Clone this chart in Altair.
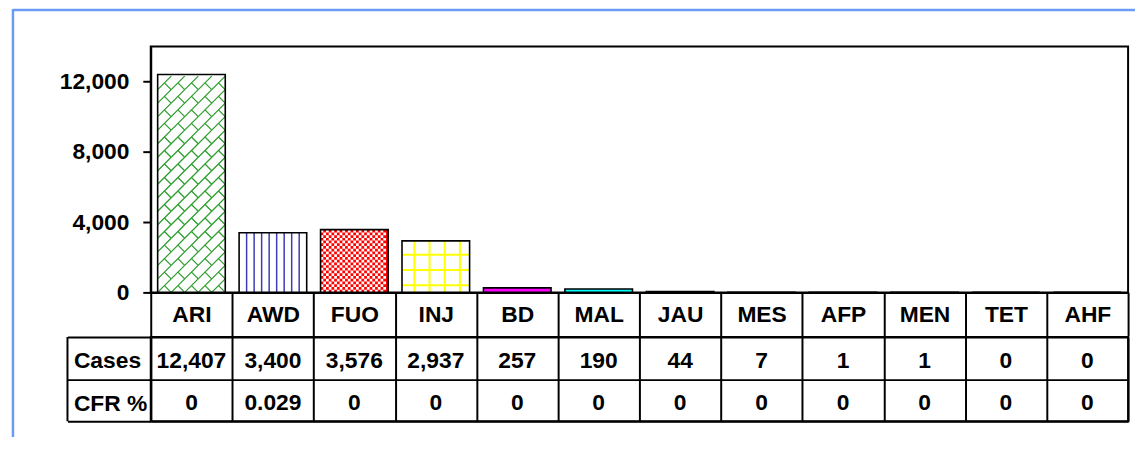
import altair as alt
import pandas as pd

# ---------------- data ----------------
cats = ["ARI", "AWD", "FUO", "INJ", "BD", "MAL", "JAU", "MES", "AFP", "MEN", "TET", "AHF"]
cases = [12407, 3400, 3576, 2937, 257, 190, 44, 7, 1, 1, 0, 0]
cfr = [0, 0.029, 0, 0, 0, 0, 0, 0, 0, 0, 0, 0]
row_names = ["Cases", "CFR %"]
y_ticks = [0, 4000, 8000, 12000]
fills = ["#ffffff", "#ffffff", "#ff0000", "#ffffff", "#ff00ff", "#00ffff",
         "#ffffff", "#ffffff", "#ffffff", "#ffffff", "#ffffff", "#ffffff"]

# ---------------- layout / style ----------------
FONT = "Liberation Sans"
FS = 23
W = 986
H_BAR = 248
H_TAB = 85
BAR = 0.83
YMAX = 14000
N = len(cats)
U_PER_PX_Y = YMAX / H_BAR          # data units per pixel (y)
PX_PER_BAND = W / N                # pixels per category (x)
BLUE = "#6a9cf5"

bars_df = pd.DataFrame({"cat": cats, "cases": cases, "fill": fills})
one = pd.DataFrame({"k": [0]})


def bar_left(i):
    return i + (1 - BAR) / 2


# ---- pattern textures (decoration derived from bar values) ----
i_awd = cats.index("AWD")
awd = pd.DataFrame({"px": [bar_left(i_awd) + BAR * k / 9 for k in range(1, 9)]})
awd["py"] = 0
awd["py2"] = cases[i_awd]

i_fuo = cats.index("FUO")
CK = 2.75
fuo_cols = list(range(int(BAR * PX_PER_BAND // CK)))
fuo = pd.DataFrame({"px": [bar_left(i_fuo) + CK * (k + 0.5) / PX_PER_BAND for k in fuo_cols],
                    "par": [k % 2 for k in fuo_cols]})
fuo["py"] = 0
fuo["py2"] = cases[i_fuo]

i_inj = cats.index("INJ")
GRID = 15.3
inj_v = pd.DataFrame({"px": [bar_left(i_inj) + (12.5 + GRID * k) / PX_PER_BAND for k in range(4)]})
inj_v["py"] = 0
inj_v["py2"] = cases[i_inj]
inj_h_vals = []
v = 412
while v < cases[i_inj]:
    inj_h_vals.append(v)
    v += GRID * U_PER_PX_Y
inj_h = pd.DataFrame({"py": inj_h_vals})
inj_h["px"] = bar_left(i_inj)
inj_h["px2"] = bar_left(i_inj) + BAR

i_ari = cats.index("ARI")
NCOL = 5
tile_px = BAR * PX_PER_BAND / NCOL
tile_u = tile_px * U_PER_PX_Y
nrow = int(cases[i_ari] // tile_u)
ari_rows = []
for r in range(nrow):
    for c in range(NCOL):
        ari_rows.append({"px": bar_left(i_ari) + BAR / NCOL * (c + 0.5),
                         "py": (r + 0.5) * tile_u})
ari = pd.DataFrame(ari_rows)

# ---------------- encodings ----------------
band = alt.Scale(paddingInner=0, paddingOuter=0)
yscale = alt.Scale(domain=[0, YMAX], nice=False, zero=True)
qx = alt.Scale(domain=[0, N], nice=False, zero=False)

x_axis = alt.Axis(title=None, orient="bottom", labelAngle=0, tickBand="extent",
                  tickSize=44, tickWidth=2, tickColor="black",
                  domainColor="black", domainWidth=2,
                  labelPadding=-22, labelBaseline="middle", labelAlign="center",
                  labelFont=FONT, labelFontSize=FS, labelFontWeight="bold",
                  labelColor="black", grid=False)
y_axis = alt.Axis(title=None, values=y_ticks, labelExpr="format(datum.value, ',')",
                  grid=False, tickSize=8, tickWidth=2, tickColor="black",
                  domainColor="black", domainWidth=2, labelPadding=14,
                  labelFont=FONT, labelFontSize=FS, labelFontWeight="bold",
                  labelColor="black")


def Xq(field):
    return alt.X(f"{field}:Q", scale=qx, axis=None, title=None)


def Yq(field):
    return alt.Y(f"{field}:Q", scale=yscale, axis=y_axis, title=None)


bars = alt.Chart(bars_df).mark_bar(width=alt.RelativeBandSize(BAR), strokeWidth=0).encode(
    x=alt.X("cat:N", sort=cats, scale=band, axis=x_axis),
    y=Yq("cases"),
    fill=alt.Fill("fill:N", scale=None),
)

awd_l = alt.Chart(awd).mark_rule(color="#3c3cb4", strokeWidth=1.5).encode(
    x=Xq("px"), y=Yq("py"), y2=alt.Y2("py2"))

fuo_even = alt.Chart(fuo[fuo["par"] == 0]).mark_rule(
    color="white", strokeWidth=CK, strokeDash=[CK, CK], strokeDashOffset=0).encode(
    x=Xq("px"), y=Yq("py"), y2=alt.Y2("py2"))
fuo_odd = alt.Chart(fuo[fuo["par"] == 1]).mark_rule(
    color="white", strokeWidth=CK, strokeDash=[CK, CK], strokeDashOffset=CK).encode(
    x=Xq("px"), y=Yq("py"), y2=alt.Y2("py2"))

inj_vl = alt.Chart(inj_v).mark_rule(color="#ffff00", strokeWidth=2).encode(
    x=Xq("px"), y=Yq("py"), y2=alt.Y2("py2"))
inj_hl = alt.Chart(inj_h).mark_rule(color="#ffff00", strokeWidth=2).encode(
    x=Xq("px"), x2=alt.X2("px2"), y=Yq("py"))

ari_l = alt.Chart(ari).mark_point(
    shape="M-1,1L1,-1M0,0L1,1", size=tile_px ** 2, filled=False, opacity=1,
    stroke="#2f9e2f", strokeWidth=1.3).encode(x=Xq("px"), y=Yq("py"))

outline = alt.Chart(bars_df).mark_bar(
    width=alt.RelativeBandSize(BAR), fillOpacity=0, stroke="black", strokeWidth=1.6).encode(
    x=alt.X("cat:N", sort=cats, scale=band, axis=None),
    y=Yq("cases"),
)

frame_top = alt.Chart(one).mark_rule(color=BLUE, strokeWidth=2.5).encode(
    x=alt.value(-139), x2=alt.value(993), y=alt.value(-37))
frame_left = alt.Chart(one).mark_rule(color=BLUE, strokeWidth=2.5).encode(
    x=alt.value(-139), y=alt.value(-38), y2=alt.value(394))

bar_chart = alt.layer(
    bars, awd_l, fuo_even, fuo_odd, inj_vl, inj_hl, ari_l, outline, frame_top, frame_left
).resolve_scale(x="independent").properties(width=W, height=H_BAR)

# ---------------- table ----------------
tab_df = pd.DataFrame({
    "cat": cats * 2,
    "row": [row_names[0]] * N + [row_names[1]] * N,
    "txt": [f"{c:,}" for c in cases] + [f"{c:g}" for c in cfr],
})

tab_text = alt.Chart(tab_df).mark_text(
    font=FONT, fontSize=FS, fontWeight="bold", color="black", dy=3).encode(
    x=alt.X("cat:N", sort=cats, scale=band,
            axis=alt.Axis(title=None, grid=True, gridColor="black", gridWidth=2,
                          tickBand="extent", domain=False, ticks=False, labels=False)),
    y=alt.Y("row:N", sort=row_names, scale=band,
            axis=alt.Axis(title=None, orient="left", grid=True, gridColor="black",
                          gridWidth=2, tickBand="extent", tickSize=84, tickWidth=2,
                          tickColor="black", domainColor="black", domainWidth=2,
                          labelAlign="left", labelBaseline="middle", labelPadding=-6,
                          labelFont=FONT, labelFontSize=FS, labelFontWeight="bold",
                          labelColor="black", labelOffset=3)),
    text="txt:N",
)
tab_left = alt.Chart(one).mark_rule(color="black", strokeWidth=2).encode(
    x=alt.value(-84), y=alt.value(0), y2=alt.value(H_TAB))

tab_chart = alt.layer(tab_text, tab_left).properties(width=W, height=H_TAB)

PAD = {"left": 2, "top": -4, "right": 0, "bottom": 0}
chart = alt.vconcat(bar_chart, tab_chart, spacing=45, bounds="flush").properties(
    padding=PAD, autosize=alt.AutoSizeParams(type="pad")
).configure(padding=PAD).configure_view(stroke="black", strokeWidth=2)

chart.save("out.html", embed_options={"renderer": "svg", "actions": False})
